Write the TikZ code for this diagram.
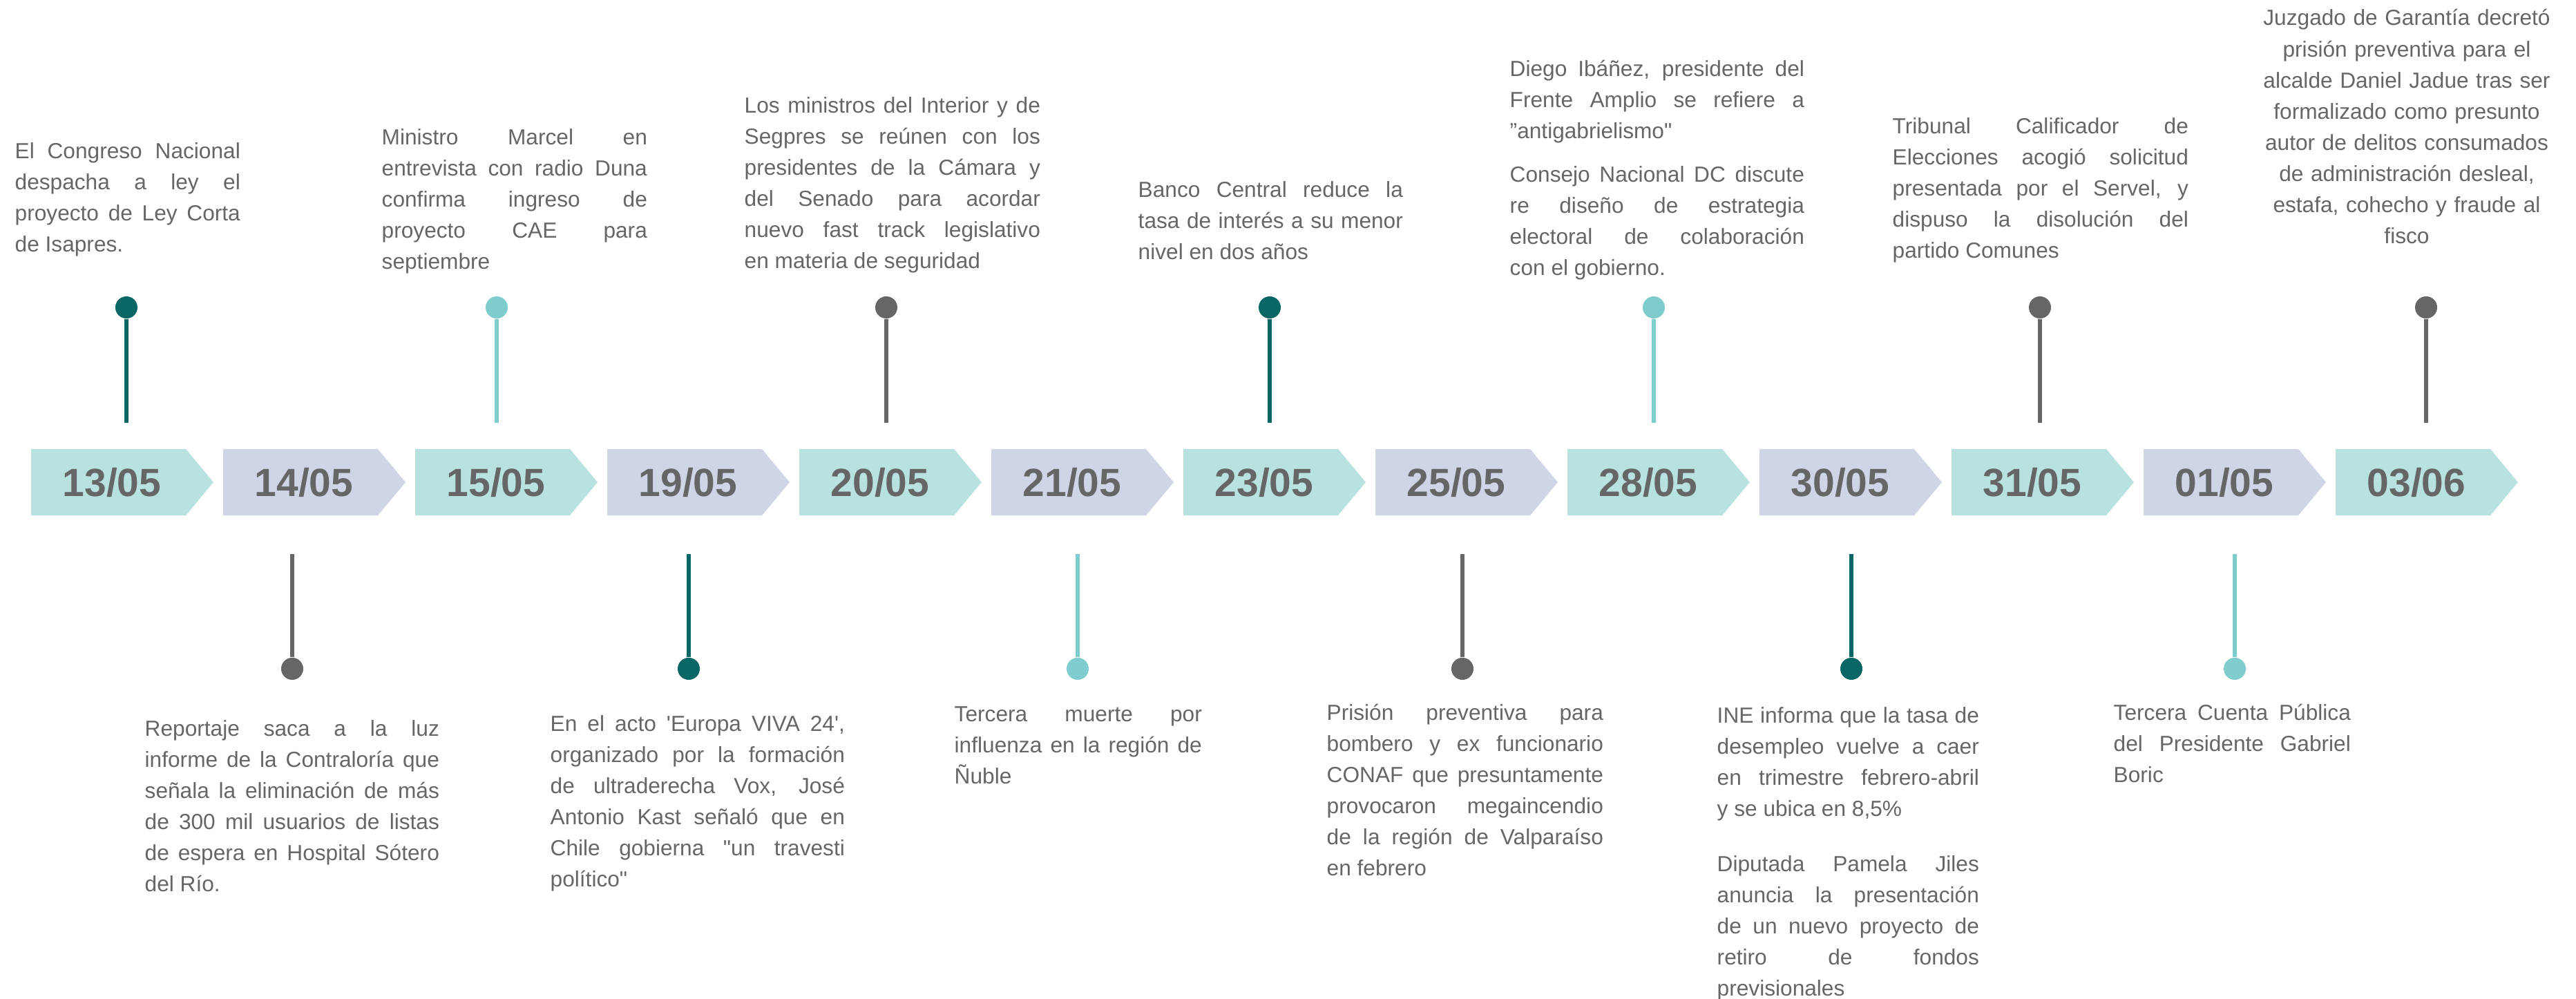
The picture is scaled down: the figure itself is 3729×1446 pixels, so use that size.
\documentclass[tikz,border=0pt]{standalone}
\usepackage{fontspec}
\usetikzlibrary{calc}
\newfontfamily\tlfont{Liberation Sans}

\definecolor{chevteal}{HTML}{B7E2E0}
\definecolor{chevlila}{HTML}{CFD5E6}
\definecolor{darkteal}{HTML}{086664}
\definecolor{softteal}{HTML}{7ECCCB}
\definecolor{stemgray}{HTML}{666666}
\definecolor{txtgray}{HTML}{666666}

\tolerance=10000
\hbadness=10000
\hyphenpenalty=10000
\exhyphenpenalty=10000

\tikzset{
  note/.style={inner sep=0pt, text=txtgray, align=justify, anchor=north west,
    font=\tlfont\fontsize{9}{12.8}\selectfont},
  datetxt/.style={inner sep=0pt, text=txtgray,
    font=\tlfont\bfseries\fontsize{16.2}{18}\selectfont},
  dot/.style={circle, inner sep=0pt, minimum size=0.32cm},
  stem/.style={line width=0.06cm}
}

\begin{document}
\begin{tikzpicture}[x=0.01cm, y=-0.01cm]
    \useasboundingbox (0,0) rectangle (3729,1446);

    % === Chevrons with dates ===
    \foreach \i/\dd/\mm/\fc in {0/13/05/chevteal, 1/14/05/chevlila, 2/15/05/chevteal,
        3/19/05/chevlila, 4/20/05/chevteal, 5/21/05/chevlila, 6/23/05/chevteal,
        7/25/05/chevlila, 8/28/05/chevteal, 9/30/05/chevlila, 10/31/05/chevteal,
        11/01/05/chevlila, 12/03/06/chevteal} {
        \coordinate (c\i) at (45+278*\i, 650);
        \fill[\fc] (c\i) -- ++(224,0) -- ++(40,48) -- ++(-40,48) -- ++(-224,0) -- cycle;
        \node[datetxt] (d\i) at ($(c\i)+(117,48)$) {\dd/\mm};
    }

    % === Stems above ===
    \foreach \x/\col [count=\k] in {183/darkteal, 719/softteal, 1283/stemgray,
        1838/darkteal, 2394/softteal, 2953/stemgray, 3512/stemgray} {
        \coordinate (u\k) at (\x,612);
        \node[dot, fill=\col] (up\k) at (\x,445) {};
        \draw[stem, \col] (u\k) -- (up\k);
    }

    % === Stems below ===
    \foreach \x/\col [count=\k] in {423/stemgray, 997/darkteal, 1560/softteal,
        2117/stemgray, 2680/darkteal, 3235/softteal} {
        \coordinate (l\k) at (\x,802);
        \node[dot, fill=\col] (lp\k) at (\x,968) {};
        \draw[stem, \col] (l\k) -- (lp\k);
    }

    % === Notes above ===
    \node[note, text width=3.26cm] (n1305) at (21,206)
        {El Congreso Nacional\linebreak despacha a ley el\linebreak proyecto de Ley Corta\linebreak de Isapres.};
    \node[note, text width=3.84cm] (n1505) at (552,186)
        {Ministro Marcel en\linebreak entrevista con radio Duna\linebreak confirma ingreso de\linebreak proyecto CAE para\linebreak septiembre};
    \node[note, text width=4.28cm] (n2005) at (1077,140)
        {Los ministros del Interior y de\linebreak Segpres se reúnen con los\linebreak presidentes de la Cámara y\linebreak del Senado para acordar\linebreak nuevo fast track legislativo\linebreak en materia de seguridad};
    \node[note, text width=3.83cm] (n2305) at (1647,262)
        {Banco Central reduce la\linebreak tasa de interés a su menor\linebreak nivel en dos años};
    \node[note, text width=4.26cm] (n2805a) at (2185,86)
        {Diego Ibáñez, presidente del\linebreak Frente Amplio se refiere a\linebreak ”antigabrielismo"};
    \node[note, text width=4.26cm] (n2805b) at (2185,240)
        {Consejo Nacional DC discute\linebreak re diseño de estrategia\linebreak electoral de colaboración\linebreak con el gobierno.};
    \node[note, text width=4.28cm] (n3105) at (2739,170)
        {Tribunal Calificador de\linebreak Elecciones acogió solicitud\linebreak presentada por el Servel, y\linebreak dispuso la disolución del\linebreak partido Comunes};
    \node[note, text width=4.27cm, align=center, anchor=north] (n0306) at (3484,13)
        {Juzgado de Garantía decretó\\ prisión preventiva para el\\ alcalde Daniel Jadue tras ser\\ formalizado como presunto\\ autor de delitos consumados\\ de administración desleal,\\ estafa, cohecho y fraude al\\ fisco};

    % === Notes below ===
    \node[note, text width=4.26cm] (n1405) at (209,1042)
        {Reportaje saca a la luz\linebreak informe de la Contraloría que\linebreak señala la eliminación de más\linebreak de 300 mil usuarios de listas\linebreak de espera en Hospital Sótero\linebreak del Río.};
    \node[note, text width=4.26cm] (n1905) at (796,1035)
        {En el acto 'Europa VIVA 24',\linebreak organizado por la formación\linebreak de ultraderecha Vox, José\linebreak Antonio Kast señaló que en\linebreak Chile gobierna "un travesti\linebreak político"};
    \node[note, text width=3.58cm] (n2105) at (1381,1022)
        {Tercera muerte por\linebreak influenza en la región de\linebreak Ñuble};
    \node[note, text width=4.00cm] (n2505) at (1920,1018)
        {Prisión preventiva para\linebreak bombero y ex funcionario\linebreak CONAF que presuntamente\linebreak provocaron megaincendio\linebreak de la región de Valparaíso\linebreak en febrero};
    \node[note, text width=3.79cm] (n3005a) at (2485,1023)
        {INE informa que la tasa de\linebreak desempleo vuelve a caer\linebreak en trimestre febrero-abril\linebreak y se ubica en 8,5\%};
    \node[note, text width=3.79cm] (n3005b) at (2485,1238)
        {Diputada Pamela Jiles\linebreak anuncia la presentación\linebreak de un nuevo proyecto de\linebreak retiro de fondos\linebreak previsionales};
    \node[note, text width=3.43cm] (n0105) at (3059,1018)
        {Tercera Cuenta Pública\linebreak del Presidente Gabriel\linebreak Boric};

\end{tikzpicture}
\end{document}
